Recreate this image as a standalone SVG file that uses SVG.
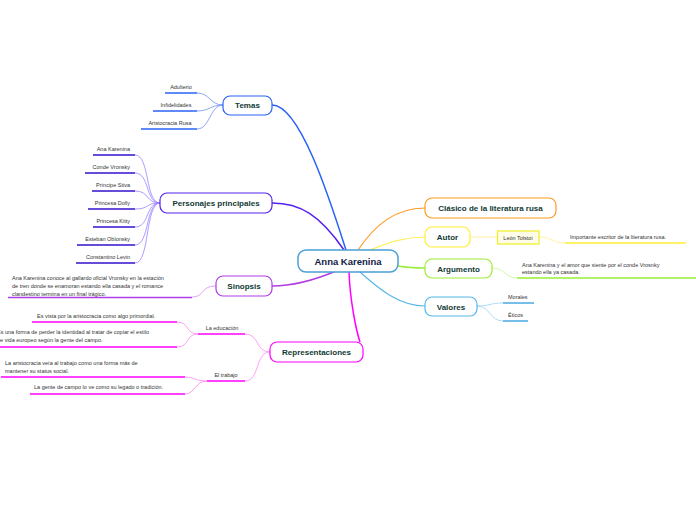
<svg xmlns="http://www.w3.org/2000/svg" width="696" height="520" viewBox="0 0 696 520">
<style>
text{font-family:"Liberation Sans",Arial,sans-serif;fill:#333}
.m{font-size:8px;font-weight:bold;fill:#113a33;text-anchor:middle}
.s{font-size:5.5px}
.e{text-anchor:end}
.c{text-anchor:middle}
path{fill:none}
rect{fill:#fff}
</style>
<rect x="0" y="0" width="696" height="520" style="fill:#fff"/>
<g id="connectors">
<path d="M346,250 C330,200 300,105 272,105" stroke="#2a62f5" stroke-width="1.5"/>
<path d="M344,250 C320,215 300,203 272,203" stroke="#5522ee" stroke-width="1.5"/>
<path d="M336,271 C310,282 290,286 272,286" stroke="#b03ce8" stroke-width="1.5"/>
<path d="M349,272 C350,300 356,330 360,342" stroke="#f0f" stroke-width="1.5"/>
<path d="M358,250 C375,225 395,208 425,208" stroke="#ff9922" stroke-width="1.2"/>
<path d="M370,250 C390,242 405,237 425,237" stroke="#ffee44" stroke-width="1.2"/>
<path d="M398,266 C410,268 415,268 425,268" stroke="#99ee33" stroke-width="1.5"/>
<path d="M360,272 C380,290 400,306 425,306" stroke="#55b8e8" stroke-width="1.2"/>
<g stroke="#6f8ff8" stroke-width="0.8">
<path d="M197,93 C210,93 210,105 223,105"/><path d="M197,111 C210,111 210,105 223,105"/><path d="M197,129 C210,129 210,105 223,105"/>
</g>
<g stroke="#9a80ff" stroke-width="0.8">
<path d="M135,155 C150,155 145,203 160,203"/><path d="M135,173 C150,173 145,203 160,203"/><path d="M135,191 C150,191 145,203 160,203"/><path d="M135,209 C150,209 145,203 160,203"/><path d="M135,227 C150,227 145,203 160,203"/><path d="M135,245 C150,245 145,203 160,203"/><path d="M135,263 C150,263 145,203 160,203"/>
</g>
<path d="M192,297 C205,297 200,286 216,286" stroke="#d08af5" stroke-width="0.8"/>
<g stroke="#ff88ee" stroke-width="0.8">
<path d="M245,334 C260,334 255,352 270,352"/><path d="M245,381 C260,381 255,352 270,352"/>
<path d="M177,322 C190,322 185,334 198,334"/><path d="M177,347 C190,347 185,334 198,334"/>
<path d="M185,377 C195,377 195,381 207,381"/><path d="M185,394 C195,394 195,381 207,381"/>
</g>
<path d="M470,237 L497,237" stroke="#ffee88" stroke-width="0.8"/>
<path d="M539,237 C552,237 552,243 565,243" stroke="#ffee88" stroke-width="0.8"/>
<path d="M492,268 C505,268 505,278 517,278" stroke="#c8f590" stroke-width="0.8"/>
<path d="M477,306 C490,306 490,303 503,303" stroke="#9ad3f0" stroke-width="0.8"/>
<path d="M477,306 C490,306 490,321 503,321" stroke="#9ad3f0" stroke-width="0.8"/>
</g>
<g id="center"><rect x="298" y="250" width="100" height="22" rx="8" stroke="#4a9fd5" stroke-width="1.5"/><text x="348" y="264.5" class="m" style="font-size:9.5px;fill:#112244">Anna Karenina</text></g>
<g id="temas"><rect x="223" y="96" width="49" height="19" rx="7" stroke="#2a62f5" stroke-width="1.2"/><text x="247.5" y="108" class="m">Temas</text>
<text x="181" y="89" class="s c">Adulterio</text><path d="M165,93 H197" stroke="#2a62f5" stroke-width="1.5"/>
<text x="176" y="107" class="s c">Infidelidades</text><path d="M153,111 H197" stroke="#2a62f5" stroke-width="1.5"/>
<text x="170" y="125" class="s c">Aristocracia Rusa</text><path d="M141,129 H197" stroke="#2a62f5" stroke-width="1.5"/></g>
<g id="personajes"><rect x="160" y="193" width="112" height="20" rx="7" stroke="#5522ee" stroke-width="1.2"/><text x="216" y="206" class="m">Personajes principales</text>
<g stroke="#3311cc" stroke-width="1.5">
<path d="M93,155 H135"/><path d="M85,173 H135"/><path d="M92,191 H135"/><path d="M88,209 H135"/><path d="M93,227 H135"/><path d="M77,245 H135"/><path d="M76,263 H135"/></g>
<text x="130" y="151" class="s e">Ana Karenina</text><text x="130" y="169" class="s e">Conde Vronsky</text><text x="130" y="187" class="s e">Príncipe Stiva</text><text x="130" y="205" class="s e">Princesa Dolly</text><text x="130" y="223" class="s e">Princesa Kitty</text><text x="130" y="241" class="s e">Esteban Oblonsky</text><text x="130" y="259" class="s e">Constantino Levin</text></g>
<g id="sinopsis"><rect x="216" y="276" width="56" height="20" rx="7" stroke="#b03ce8" stroke-width="1.2"/><text x="244" y="289" class="m">Sinopsis</text>
<text x="12" y="280" class="s">Ana Karenina conoce al gallardo oficial Vronsky en la estación</text>
<text x="12" y="288" class="s">de tren donde se enamoran estando ella casada y el romance</text>
<text x="12" y="296" class="s">clandestino termina en un final trágico.</text>
<path d="M8,297.5 H192" stroke="#b03ce8" stroke-width="1.5"/></g>
<g id="representaciones"><rect x="270" y="342" width="93" height="20" rx="7" stroke="#f0f" stroke-width="1.2"/><text x="316.5" y="355" class="m">Representaciones</text>
<text x="222" y="330" class="s c">La educación</text><path d="M198,334 H245" stroke="#f0f" stroke-width="1.5"/>
<text x="226" y="377" class="s c">El trabajo</text><path d="M207,381 H245" stroke="#f0f" stroke-width="1.5"/>
<text x="37" y="318" class="s">Es vista por la aristocracia como algo primordial.</text><path d="M32,322 H177" stroke="#f0f" stroke-width="1.5"/>
<text x="-3" y="334" class="s">Es una forma de perder la identidad al tratar de copiar el estilo</text>
<text x="-3" y="342" class="s">de vida europeo según la gente del campo.</text><path d="M0,347 H177" stroke="#f0f" stroke-width="1.5"/>
<text x="5" y="365" class="s">La aristocracia veía al trabajo como una forma más de</text>
<text x="5" y="373" class="s">mantener su status social.</text><path d="M1,377 H185" stroke="#f0f" stroke-width="1.5"/>
<text x="34" y="389" class="s">La gente de campo lo ve como su legado o tradición.</text><path d="M30,394 H185" stroke="#f0f" stroke-width="1.5"/></g>
<g id="clasico"><rect x="425" y="198" width="131" height="20" rx="7" stroke="#ff9922" stroke-width="1.2"/><text x="490.5" y="211" class="m">Clásico de la literatura rusa</text></g>
<g id="autor"><rect x="425" y="227" width="45" height="20" rx="7" stroke="#ffee33" stroke-width="1.2"/><text x="447.5" y="240" class="m">Autor</text>
<rect x="497.5" y="231" width="41.5" height="13" style="fill:#fffde8" stroke="#eeee22" stroke-width="1.2"/><text x="518" y="239.5" class="s c">León Tolstoi</text>
<text x="570" y="239" class="s">Importante escritor de la literatura rusa.</text><path d="M565,243 H686" stroke="#ffee33" stroke-width="1.5"/></g>
<g id="argumento"><rect x="425" y="259" width="67" height="19" rx="7" stroke="#99ee33" stroke-width="1.2"/><text x="458.5" y="271.5" class="m">Argumento</text>
<text x="522" y="267" class="s">Ana Karenina y el amor que siente por el conde Vrosnky</text>
<text x="522" y="274" class="s">estando ella ya casada.</text><path d="M517,278 H696" stroke="#99ee33" stroke-width="1.5"/></g>
<g id="valores"><rect x="425" y="297" width="52" height="19" rx="7" stroke="#55b8e8" stroke-width="1.2"/><text x="451" y="309.5" class="m">Valores</text>
<text x="508" y="299" class="s">Morales</text><path d="M503,303 H534" stroke="#4aa8e0" stroke-width="1.5"/>
<text x="508" y="317" class="s">Éticos</text><path d="M503,321 H528" stroke="#4aa8e0" stroke-width="1.5"/></g>
</svg>
